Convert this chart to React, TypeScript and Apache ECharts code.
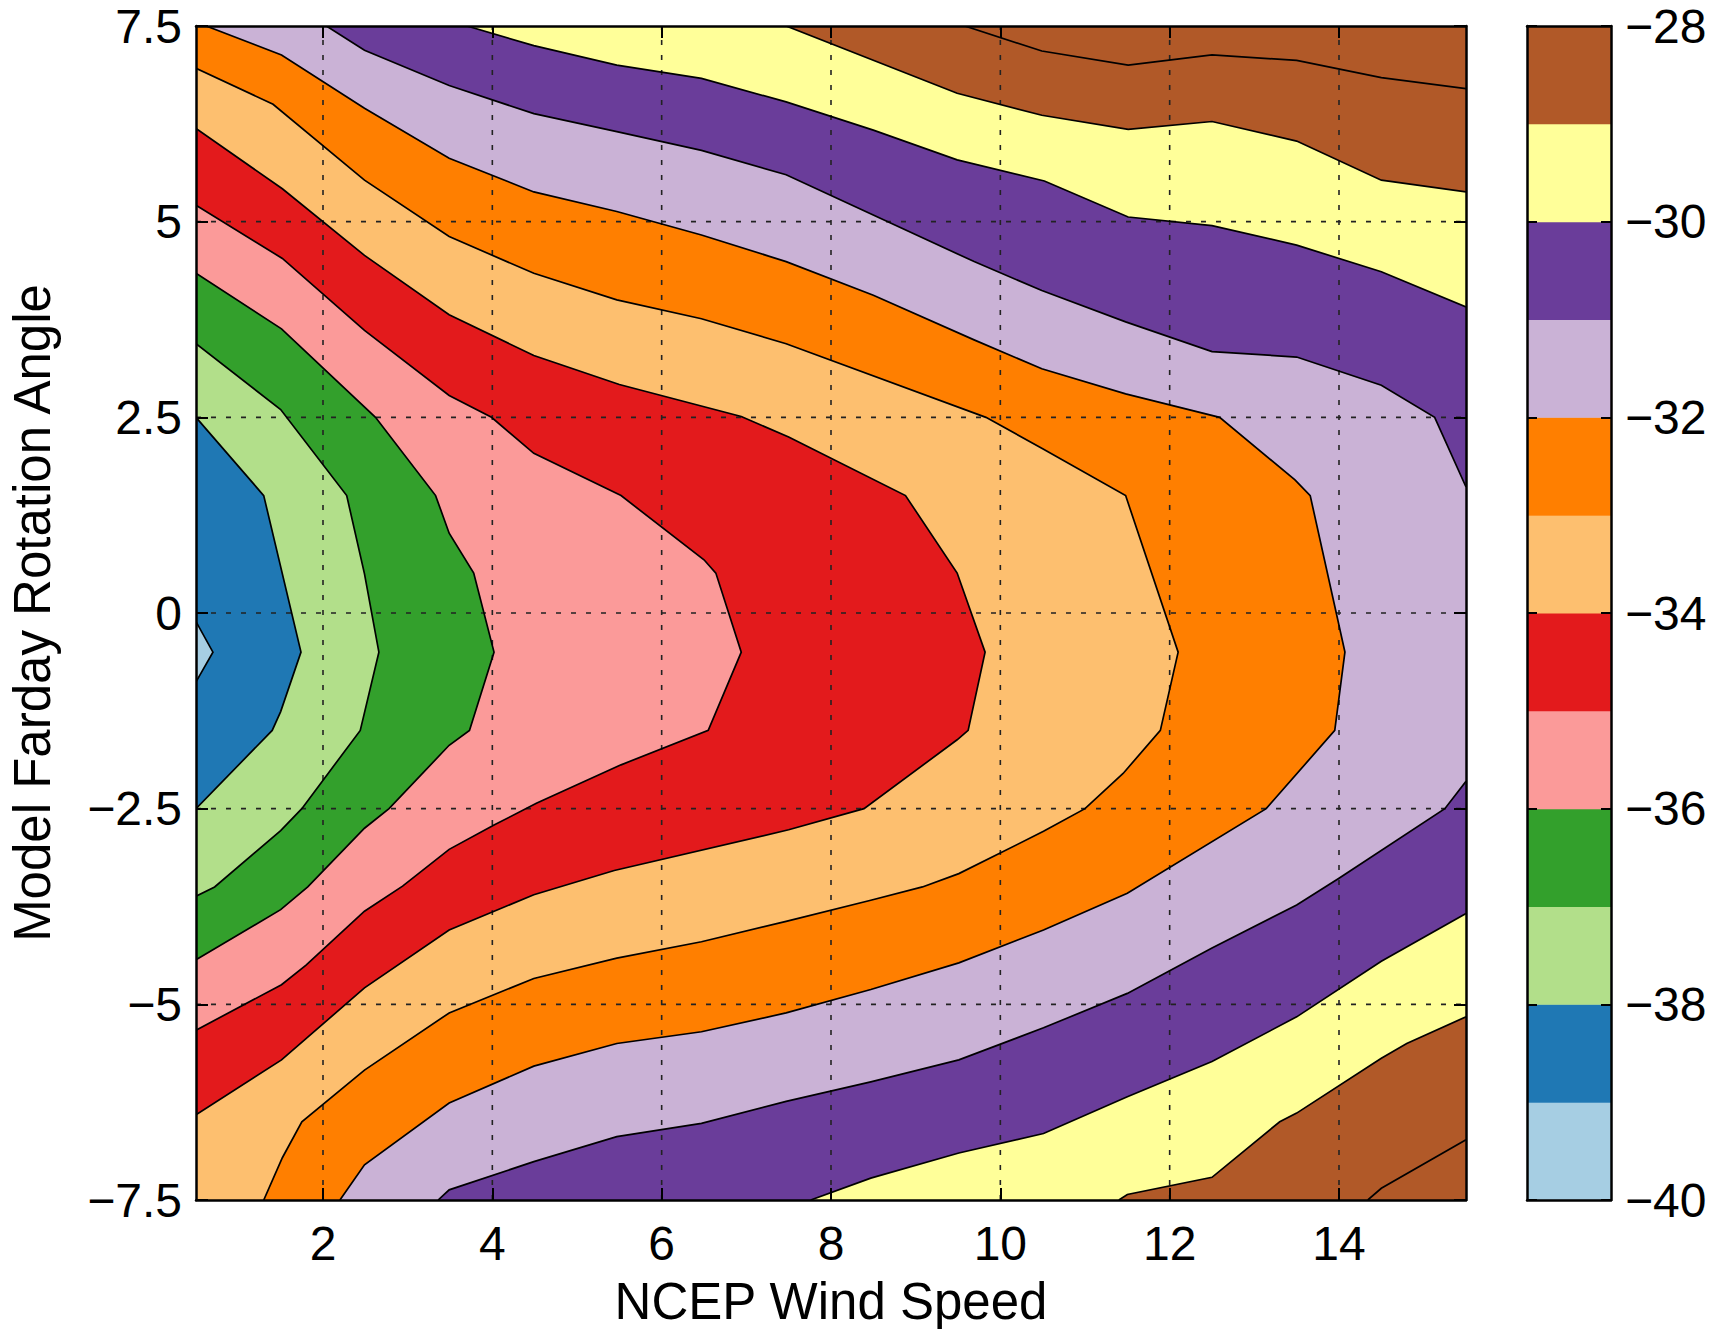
import React, { useEffect, useRef } from "react";
import * as echarts from "echarts";

// ---- axes ----
const X_MIN = 0.5;
const X_MAX = 15.5;
const Y_MIN = -7.5;
const Y_MAX = 7.5;
const xTicks = [2, 4, 6, 8, 10, 12, 14];
const yTicks = [-7.5, -5, -2.5, 0, 2.5, 5, 7.5];
const cbTicks = [-40, -38, -36, -34, -32, -30, -28];
const CB_MIN = -40;
const CB_MAX = -28;

// colour of each 1-unit band from -40 up to -28
const bandColors = [
  "#a6cee3", "#1f78b4", "#b2df8a", "#33a02c", "#fb9a99", "#e31a1c",
  "#fdbf6f", "#ff7f00", "#cab2d6", "#6a3d9a", "#ffff99", "#b15928",
];

// ---- contour lines (x = wind speed, y = rotation angle) ----
const contourM28 = [
  [[9.58, 7.5], [10.49, 7.18], [11.51, 7.0], [12.5, 7.13], [13.5, 7.06], [14.5, 6.84], [15.5, 6.7]],
  [[15.5, -6.73], [14.5, -7.35], [14.34, -7.5]],
];
const contourM29 = [
  [[7.47, 7.5], [9.49, 6.64], [10.49, 6.36], [11.51, 6.18], [12.5, 6.28], [13.5, 6.03], [14.5, 5.53], [15.5, 5.38]],
  [[15.5, -5.16], [14.8, -5.5], [14.5, -5.69], [13.5, -6.39], [13.3, -6.5], [12.5, -7.21], [11.5, -7.43], [11.4, -7.5]],
];
const contourM30 = [
  [[3.7, 7.5], [4.49, 7.25], [5.47, 7.0], [6.47, 6.83], [7.47, 6.53], [8.5, 6.17], [9.49, 5.79], [10.52, 5.52],
   [11.51, 5.06], [12.5, 4.95], [13.5, 4.7], [14.5, 4.36], [15.5, 3.91]],
  [[15.5, -3.84], [14.5, -4.45], [13.5, -5.16], [12.5, -5.73], [11.5, -6.18], [10.51, -6.65], [9.51, -6.9],
   [8.47, -7.22], [7.76, -7.5]],
];
const contourM31 = [
  [[2.04, 7.5], [2.49, 7.19], [3.49, 6.74], [4.49, 6.38], [5.47, 6.15], [6.47, 5.91], [7.47, 5.6], [9.69, 4.49],
   [10.49, 4.12], [11.48, 3.72], [12.5, 3.34], [13.5, 3.27], [14.5, 2.91], [15.13, 2.5], [15.5, 1.61]],
  [[15.5, -2.15], [15.25, -2.5], [14.0, -3.39], [13.5, -3.73], [12.5, -4.28], [11.5, -4.86], [10.51, -5.3],
   [9.51, -5.71], [8.47, -5.99], [7.47, -6.24], [6.47, -6.52], [5.47, -6.69], [4.49, -7.01], [3.49, -7.37], [3.36, -7.5]],
];
const contourM32 = [
  [[0.62, 7.5], [1.51, 7.13], [2.49, 6.45], [3.49, 5.81], [4.49, 5.38], [5.47, 5.13], [6.47, 4.83], [7.47, 4.49],
   [8.5, 4.06], [9.69, 3.49], [10.49, 3.12], [11.48, 2.8], [12.59, 2.5], [13.48, 1.7], [13.66, 1.5], [14.07, -0.5],
   [13.95, -1.5], [13.14, -2.5], [11.5, -3.58], [10.51, -4.05], [9.51, -4.47], [8.47, -4.81], [7.47, -5.11],
   [6.47, -5.35], [5.47, -5.5], [4.49, -5.79], [3.49, -6.26], [2.49, -7.05], [2.2, -7.5]],
];
const contourM33 = [
  [[0.5, 6.96], [1.41, 6.5], [2.49, 5.53], [3.49, 4.81], [4.49, 4.34], [5.47, 4.0], [6.47, 3.76], [7.47, 3.44],
   [9.83, 2.5], [10.5, 2.1], [11.48, 1.5], [12.1, -0.5], [11.89, -1.5], [11.45, -2.05], [11.0, -2.5], [10.51, -2.79],
   [9.51, -3.33], [9.08, -3.5], [8.47, -3.67], [7.47, -3.94], [6.47, -4.2], [5.47, -4.41], [4.49, -4.67],
   [3.49, -5.11], [2.49, -5.84], [1.75, -6.5], [1.52, -6.96], [1.3, -7.5]],
];
const contourM34 = [
  [[0.5, 6.19], [1.52, 5.42], [2.49, 4.57], [3.49, 3.81], [4.49, 3.29], [5.5, 2.92], [6.94, 2.51], [7.5, 2.25],
   [8.88, 1.5], [9.49, 0.51], [9.82, -0.5], [9.62, -1.5], [9.49, -1.62], [8.39, -2.5], [7.5, -2.77], [5.44, -3.29],
   [4.49, -3.6], [3.49, -4.05], [2.49, -4.79], [1.51, -5.71], [0.5, -6.41]],
];
const contourM35 = [
  [[0.5, 5.21], [1.52, 4.53], [2.49, 3.61], [3.49, 2.78], [3.99, 2.5], [4.49, 2.04], [5.52, 1.5], [6.5, 0.68],
   [6.64, 0.51], [6.94, -0.5], [6.55, -1.5], [5.52, -1.94], [4.52, -2.43], [4.02, -2.71], [3.49, -3.02],
   [2.94, -3.49], [2.49, -3.81], [1.8, -4.5], [1.51, -4.75], [0.5, -5.33]],
];
const contourM36 = [
  [[0.5, 4.34], [1.51, 3.63], [2.62, 2.5], [3.33, 1.5], [3.49, 1.02], [3.78, 0.51], [4.02, -0.5], [3.73, -1.5],
   [3.49, -1.69], [2.78, -2.5], [2.49, -2.75], [1.82, -3.5], [1.5, -3.79], [0.5, -4.43]],
];
const contourM37 = [
  [[0.5, 3.44], [1.5, 2.6], [2.28, 1.5], [2.49, 0.5], [2.66, -0.5], [2.44, -1.5], [1.75, -2.5], [1.5, -2.78],
   [0.72, -3.5], [0.5, -3.62]],
];
const contourM38 = [
  [[0.5, 2.5], [1.3, 1.5], [1.74, -0.5], [1.5, -1.26], [1.4, -1.5], [0.5, -2.5]],
];
const contourM39 = [
  [[0.5, -0.11], [0.7, -0.5], [0.5, -0.88]],
];

const contourLevels = [
  { level: -28, pieces: contourM28 },
  { level: -29, pieces: contourM29 },
  { level: -30, pieces: contourM30 },
  { level: -31, pieces: contourM31 },
  { level: -32, pieces: contourM32 },
  { level: -33, pieces: contourM33 },
  { level: -34, pieces: contourM34 },
  { level: -35, pieces: contourM35 },
  { level: -36, pieces: contourM36 },
  { level: -37, pieces: contourM37 },
  { level: -38, pieces: contourM38 },
  { level: -39, pieces: contourM39 },
];

const FONT = "'Liberation Sans', Arial, Helvetica, sans-serif";
const minus = (v: number) => (v < 0 ? "\u2212" + String(Math.abs(v)) : String(v));

// polygon of the region lying below a level (its low side is towards the left edge)
function regionBelow(pieces: number[][][]) {
  const pts = pieces.flat();
  const poly = pts.slice();
  const first = pts[0];
  const last = pts[pts.length - 1];
  if (last[1] <= Y_MIN + 1e-9) poly.push([X_MIN, Y_MIN]);
  if (first[1] >= Y_MAX - 1e-9) poly.push([X_MIN, Y_MAX]);
  return poly;
}

function buildOption() {
  const lineItems: number[][][] = [];
  contourLevels.forEach((c) => c.pieces.forEach((p) => lineItems.push(p)));

  const gridItems: { dir: string; v: number }[] = [
    ...xTicks.map((v) => ({ dir: "v", v })),
    ...yTicks.filter((v) => v > Y_MIN && v < Y_MAX).map((v) => ({ dir: "h", v })),
  ];

  const axisLine = { show: true, onZero: false, lineStyle: { color: "#000", width: 2.5 } };
  const tickInside = (custom?: number[]) => ({
    show: true,
    inside: true,
    length: 12,
    lineStyle: { color: "#000", width: 2 },
    ...(custom ? { customValues: custom } : {}),
  });
  const labelStyle = { color: "#000", fontSize: 48, fontFamily: FONT };

  return {
    animation: false,
    backgroundColor: "#ffffff",
    grid: [
      { left: 196, top: 26, width: 1270, height: 1174, containLabel: false, outerBoundsMode: "none" },
      { left: 1527, top: 26, width: 84, height: 1174, containLabel: false, outerBoundsMode: "none" },
    ],
    xAxis: [
      {
        gridIndex: 0, type: "value", min: X_MIN, max: X_MAX, position: "bottom", z: 10,
        axisLine, axisTick: tickInside(xTicks),
        axisLabel: { ...labelStyle, margin: 19, customValues: xTicks },
        splitLine: { show: false },
        name: "NCEP Wind Speed", nameLocation: "middle", nameGap: 76,
        nameTextStyle: { color: "#000", fontSize: 51, fontFamily: FONT },
      },
      {
        gridIndex: 0, type: "value", min: X_MIN, max: X_MAX, position: "top", z: 10,
        axisLine, axisTick: tickInside(xTicks),
        axisLabel: { show: false }, splitLine: { show: false },
      },
      {
        gridIndex: 1, type: "value", min: 0, max: 1, position: "bottom", z: 10,
        axisLine, axisTick: { show: false }, axisLabel: { show: false }, splitLine: { show: false },
      },
      {
        gridIndex: 1, type: "value", min: 0, max: 1, position: "top", z: 10,
        axisLine, axisTick: { show: false }, axisLabel: { show: false }, splitLine: { show: false },
      },
    ],
    yAxis: [
      {
        gridIndex: 0, type: "value", min: Y_MIN, max: Y_MAX, interval: 2.5, position: "left", z: 10,
        axisLine, axisTick: tickInside(),
        axisLabel: { ...labelStyle, margin: 14, formatter: (v: number) => minus(v) },
        splitLine: { show: false },
        name: "Model Farday Rotation Angle", nameLocation: "middle", nameGap: 138,
        nameTextStyle: { color: "#000", fontSize: 51, fontFamily: FONT },
      },
      {
        gridIndex: 0, type: "value", min: Y_MIN, max: Y_MAX, interval: 2.5, position: "right", z: 10,
        axisLine, axisTick: tickInside(), axisLabel: { show: false }, splitLine: { show: false },
      },
      {
        gridIndex: 1, type: "value", min: CB_MIN, max: CB_MAX, interval: 2, position: "left", z: 10,
        axisLine, axisTick: { ...tickInside(), length: 10 }, axisLabel: { show: false }, splitLine: { show: false },
      },
      {
        gridIndex: 1, type: "value", min: CB_MIN, max: CB_MAX, interval: 2, position: "right", z: 10,
        axisLine, axisTick: { ...tickInside(), length: 10 },
        axisLabel: { ...labelStyle, margin: 14, formatter: (v: number) => minus(v) },
        splitLine: { show: false },
      },
    ],
    series: [
      {
        type: "custom", name: "fill", xAxisIndex: 0, yAxisIndex: 0, z: 1, silent: true, clip: true,
        data: [null, ...contourLevels].map((_, i) => [X_MIN, Y_MIN, i]),
        renderItem: (params: any, api: any) => {
          const i = params.dataIndex;
          if (i === 0) {
            const p0 = api.coord([X_MIN, Y_MAX]);
            const p1 = api.coord([X_MAX, Y_MIN]);
            return {
              type: "rect",
              shape: { x: p0[0], y: p0[1], width: p1[0] - p0[0], height: p1[1] - p0[1] },
              style: { fill: bandColors[bandColors.length - 1] },
            };
          }
          const lv = contourLevels[i - 1];
          const pts = regionBelow(lv.pieces).map((p) => api.coord(p));
          return {
            type: "polygon",
            shape: { points: pts },
            style: { fill: bandColors[lv.level - CB_MIN - 1], stroke: null },
          };
        },
      },
      {
        type: "custom", name: "grid", xAxisIndex: 0, yAxisIndex: 0, z: 3, silent: true,
        data: gridItems.map((_, i) => [X_MIN, Y_MIN, i]),
        renderItem: (params: any, api: any) => {
          const g = gridItems[params.dataIndex];
          const a = g.dir === "v" ? api.coord([g.v, Y_MIN]) : api.coord([X_MIN, g.v]);
          const b = g.dir === "v" ? api.coord([g.v, Y_MAX]) : api.coord([X_MAX, g.v]);
          return {
            type: "line",
            shape: { x1: a[0], y1: a[1], x2: b[0], y2: b[1] },
            style: { stroke: "#222", lineWidth: 1.6, lineDash: [5, 10] },
          };
        },
      },
      {
        type: "custom", name: "contours", xAxisIndex: 0, yAxisIndex: 0, z: 4, silent: true, clip: true,
        data: lineItems.map((_, i) => [X_MIN, Y_MIN, i]),
        renderItem: (params: any, api: any) => {
          const piece = lineItems[params.dataIndex];
          return {
            type: "polyline",
            shape: { points: piece.map((p) => api.coord(p)) },
            style: { stroke: "#000", lineWidth: 1.7, fill: null },
          };
        },
      },
      {
        type: "custom", name: "colorbar", xAxisIndex: 2, yAxisIndex: 2, z: 1, silent: true,
        data: bandColors.map((_, i) => [0, CB_MIN + i, i]),
        renderItem: (params: any, api: any) => {
          const i = params.dataIndex;
          const lo = CB_MIN + i;
          const p0 = api.coord([0, lo + 1]);
          const p1 = api.coord([1, lo]);
          return {
            type: "rect",
            shape: { x: p0[0], y: p0[1], width: p1[0] - p0[0], height: p1[1] - p0[1] + 0.5 },
            style: { fill: bandColors[i] },
          };
        },
      },
    ],
  };
}

export default function App() {
  const ref = useRef<HTMLDivElement>(null);
  useEffect(() => {
    if (!ref.current) return;
    const chart = echarts.init(ref.current, undefined, { renderer: "svg" });
    chart.setOption(buildOption() as any);
    return () => chart.dispose();
  }, []);
  return (
    <div
      ref={ref}
      style={{ position: "fixed", left: 0, top: 0, width: 1728, height: 1329, background: "#fff" }}
    />
  );
}
